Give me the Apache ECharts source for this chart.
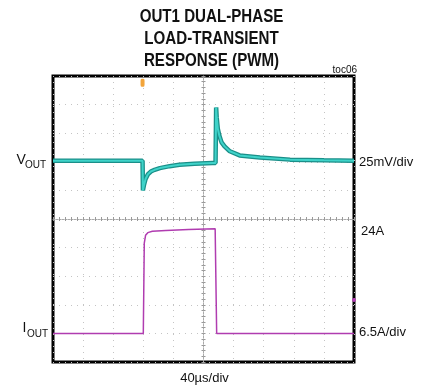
<!DOCTYPE html>
<html><head><meta charset="utf-8">
<script src="https://cdn.jsdelivr.net/npm/echarts@6/dist/echarts.min.js"></script>
<style>html,body{margin:0;padding:0;background:#fff}#c{width:425px;height:390px}</style>
</head><body><div id="c"></div>
<script>
// Time axis (µs), 40 µs/div, centred on the trigger reference
const timeTicks = [-200, -160, -120, -80, -40, 0, 40, 80, 120, 160, 200];
// VOUT deviation from nominal (mV), 25 mV/div
const voutTime = [-200, -81, -80.5, -79, -77, -74, -70, -65, -58, -45, -32, -12, 12, 16, 16.8, 17.5, 19, 21, 24, 28, 35, 48, 75, 115, 160, 200];
const voutMv   = [0, 0, -26, -21, -16, -12, -9.5, -8, -6.5, -4.8, -3.6, -2.7, -2.1, -2.0, 46.5, 38, 28, 22, 16, 12.5, 8.2, 4.6, 2.8, 0.9, 0.3, 0];
// IOUT load current (A), 6.5 A/div
const ioutTime = [-200, -80, -78.7, -77, -74, -68, -50, -20, 15.5, 17.5, 200];
const ioutA    = [0, 0, 20.5, 22.3, 22.9, 23.2, 23.4, 23.6, 23.8, 0, 0];
// Marker positions (data units)
const triggerMarker = [-81, 68];
const ioutRefMarker = [200, 7.6];

const zip = (a, b) => a.map((v, i) => [v, b[i]]);
const chart = echarts.init(document.getElementById('c'), null, {renderer: 'canvas'});
const option = {
  animation: false,
  backgroundColor: '#fff',
  grid: {left: 53, top: 76, width: 301, height: 286, show: true, borderColor: '#000', borderWidth: 3, backgroundColor: '#fff'},
  xAxis: [
    {type: 'value', min: -200, max: 200, interval: 40, position: 'bottom',
     axisLabel: {show: false},
     axisLine: {show: true, onZero: true, onZeroAxisIndex: 0, lineStyle: {color: '#aaa', width: 1, type: [2, 1]}},
     axisTick: {show: true, inside: false, length: 2, lineStyle: {color: '#999'}},
     minorTick: {show: true, splitNumber: 5, length: 2, lineStyle: {color: '#999'}},
     splitLine: {show: true, lineStyle: {color: '#c4c4c4', width: 1, type: [1, 5]}}},
    {type: 'value', min: -200, max: 200, interval: 40, position: 'top',
     axisLabel: {show: false},
     axisLine: {show: false, onZero: true, onZeroAxisIndex: 0},
     axisTick: {show: true, inside: false, length: 2, lineStyle: {color: '#999'}},
     minorTick: {show: true, splitNumber: 5, length: 2, lineStyle: {color: '#999'}},
     splitLine: {show: false}}
  ],
  yAxis: [
    {type: 'value', min: -5, max: 5, interval: 1, position: 'left',
     axisLabel: {show: false},
     axisLine: {show: true, onZero: true, onZeroAxisIndex: 0, lineStyle: {color: '#aaa', width: 1, type: [2, 1]}},
     axisTick: {show: true, inside: false, length: 2, lineStyle: {color: '#999'}},
     minorTick: {show: true, splitNumber: 5, length: 2, lineStyle: {color: '#999'}},
     splitLine: {show: true, lineStyle: {color: '#c4c4c4', width: 1, type: [1, 5]}}},
    {type: 'value', min: -5, max: 5, interval: 1, position: 'right',
     axisLabel: {show: false},
     axisLine: {show: false, onZero: true, onZeroAxisIndex: 0},
     axisTick: {show: true, inside: false, length: 2, lineStyle: {color: '#999'}},
     minorTick: {show: true, splitNumber: 5, length: 2, lineStyle: {color: '#999'}},
     splitLine: {show: false}},
    {type: 'value', min: -176, max: 74, show: false},
    {type: 'value', min: -6.5, max: 58.5, show: false}
  ],
  series: [
    {type: 'line', xAxisIndex: 0, yAxisIndex: 2, data: zip(voutTime, voutMv), showSymbol: false, z: 3,
     lineStyle: {color: '#1a8f89', width: 4.5},
     markPoint: {silent: true, data: [{coord: triggerMarker, symbol: 'roundRect', symbolSize: [4, 8], itemStyle: {color: '#f2a43a'}, label: {show: false}}]}},
    {type: 'line', xAxisIndex: 0, yAxisIndex: 2, data: zip(voutTime, voutMv), showSymbol: false, z: 4,
     lineStyle: {color: '#3fd3c9', width: 2}},
    {type: 'line', xAxisIndex: 0, yAxisIndex: 3, data: zip(ioutTime, ioutA), showSymbol: false, z: 4,
     lineStyle: {color: '#b03cb0', width: 1.5},
     markPoint: {silent: true, data: [{coord: ioutRefMarker, symbol: 'circle', symbolSize: 4, itemStyle: {color: '#b03cb0'}, label: {show: false}}]}}
  ],
  graphic: [
    {type: 'text', x: 211.5, y: 6.5, scaleX: 0.84, style: {text: 'OUT1 DUAL-PHASE\nLOAD-TRANSIENT\nRESPONSE (PWM)', font: 'bold 18px "Liberation Sans", Arial', fill: '#111', align: 'center', verticalAlign: 'top', lineHeight: 21.7}},
    {type: 'text', x: 357, y: 70.5, style: {text: 'toc06', font: '10px "Liberation Sans", Arial', fill: '#111', align: 'right', verticalAlign: 'middle'}},
    {type: 'text', x: 16.5, y: 160.5, style: {text: 'V', font: '14px "Liberation Sans", Arial', fill: '#111', align: 'left', verticalAlign: 'middle'}},
    {type: 'text', x: 25, y: 165.5, style: {text: 'OUT', font: '10px "Liberation Sans", Arial', fill: '#111', align: 'left', verticalAlign: 'middle'}},
    {type: 'text', x: 22.5, y: 328, style: {text: 'I', font: '14px "Liberation Sans", Arial', fill: '#111', align: 'left', verticalAlign: 'middle'}},
    {type: 'text', x: 27, y: 334, style: {text: 'OUT', font: '10px "Liberation Sans", Arial', fill: '#111', align: 'left', verticalAlign: 'middle'}},
    {type: 'text', x: 359, y: 162.5, style: {text: '25mV/div', font: '13px "Liberation Sans", Arial', fill: '#111', align: 'left', verticalAlign: 'middle'}},
    {type: 'text', x: 361, y: 231, style: {text: '24A', font: '13px "Liberation Sans", Arial', fill: '#111', align: 'left', verticalAlign: 'middle'}},
    {type: 'text', x: 359, y: 332.5, style: {text: '6.5A/div', font: '13px "Liberation Sans", Arial', fill: '#111', align: 'left', verticalAlign: 'middle'}},
    {type: 'text', x: 204.5, y: 378, style: {text: '40µs/div', font: '13px "Liberation Sans", Arial', fill: '#111', align: 'center', verticalAlign: 'middle'}}
  ]
};
chart.setOption(option);
</script></body></html>
